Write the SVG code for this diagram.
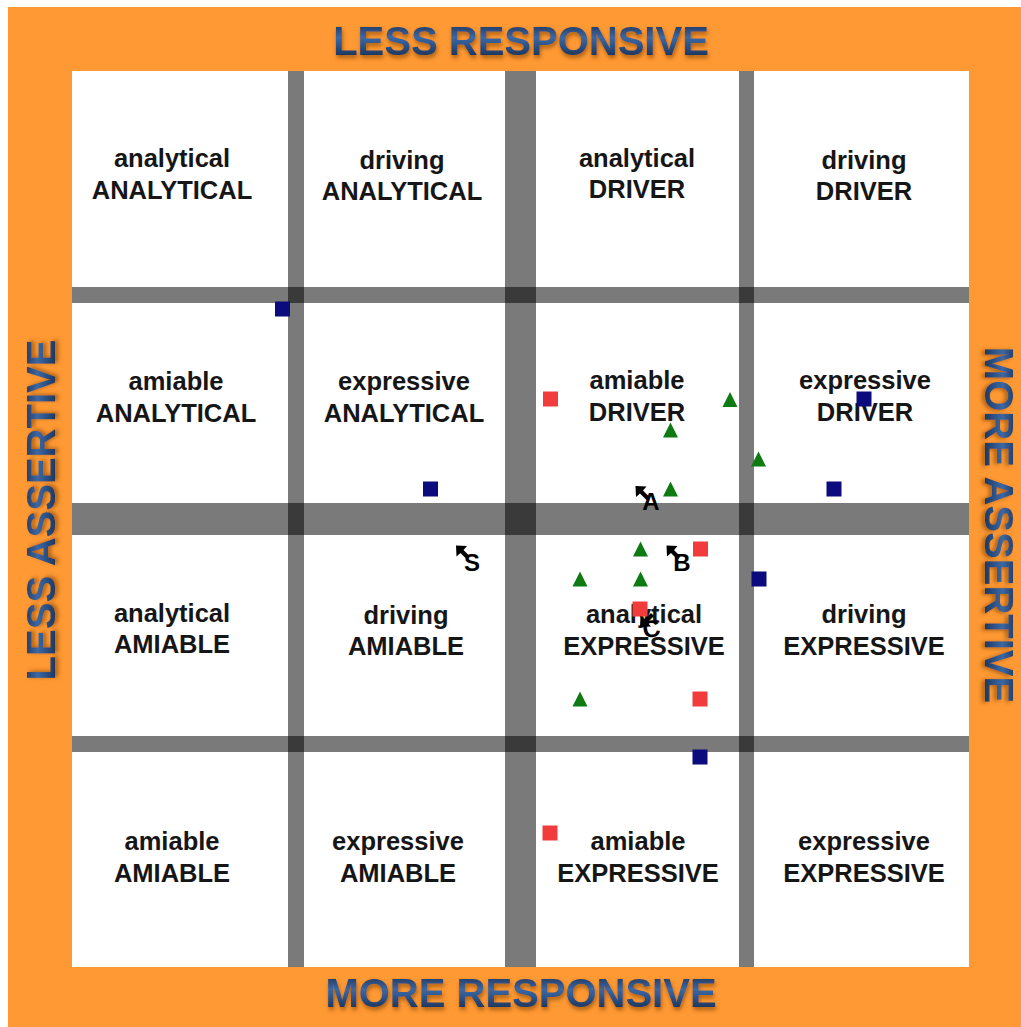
<svg xmlns="http://www.w3.org/2000/svg" width="1021" height="1027" viewBox="0 0 1021 1027">
<style>
.cell{font-family:"Liberation Sans",Arial,sans-serif;font-weight:bold;font-size:25.5px;fill:#161616;text-anchor:middle}
.title{font-family:"Liberation Sans",Arial,sans-serif;font-weight:bold;font-size:40px;fill:url(#tg);text-anchor:middle;filter:url(#sh)}
.bar{fill:#000;fill-opacity:0.52}
.blue{fill:#0b0b7d}
.red{fill:#f23c3c}
.green{fill:#0e7a12}
.lbl{font-family:"Liberation Sans",Arial,sans-serif;font-weight:bold;font-size:24px;fill:#000;text-anchor:middle}
</style>
<defs>
<linearGradient id="tg" x1="0" y1="0" x2="0" y2="1">
<stop offset="0" stop-color="#142645"/>
<stop offset="0.42" stop-color="#3c67a2"/>
<stop offset="0.6" stop-color="#2d548b"/>
<stop offset="1" stop-color="#11203c"/>
</linearGradient>
<filter id="sh" x="-10%" y="-30%" width="120%" height="170%">
<feGaussianBlur in="SourceAlpha" stdDeviation="2"/>
<feOffset dx="1" dy="3" result="b"/>
<feFlood flood-color="#7a3f00" flood-opacity="0.65"/>
<feComposite in2="b" operator="in"/>
<feMerge><feMergeNode/><feMergeNode in="SourceGraphic"/></feMerge>
</filter>
<rect id="sq" x="-7.5" y="-7.5" width="15" height="15"/>
<path id="tri" d="M0 -7.5 L7.5 7.5 L-7.5 7.5 Z"/>
<path id="ptr" d="M0 0 L11 0.5 L7.5 4.5 L14 11 L11 14 L4.5 7.5 L0.5 11 Z" fill="#000"/>
</defs>

<rect x="0" y="0" width="1021" height="1027" fill="#fff"/>
<rect x="8" y="7" width="1013" height="1020" fill="#ff9933"/>
<rect x="72" y="71" width="897" height="896" fill="#fff"/>

<g id="titles">
<text class="title" x="521" y="55">LESS RESPONSIVE</text>
<text class="title" x="521" y="1007">MORE RESPONSIVE</text>
<text class="title" transform="translate(55 510) rotate(-90)">LESS ASSERTIVE</text>
<text class="title" transform="translate(985 525) rotate(90)">MORE ASSERTIVE</text>
</g>

<g id="grid">
<rect class="bar" x="72" y="287" width="897" height="16"/>
<rect class="bar" x="72" y="503" width="897" height="32"/>
<rect class="bar" x="72" y="736" width="897" height="16"/>
<rect class="bar" x="288" y="71" width="16" height="896"/>
<rect class="bar" x="505" y="71" width="31" height="896"/>
<rect class="bar" x="739" y="71" width="15" height="896"/>
</g>

<g id="cell-r1c1"><text class="cell" x="172" y="167">analytical</text><text class="cell" x="172" y="199">ANALYTICAL</text></g>
<g id="cell-r1c2"><text class="cell" x="402" y="169">driving</text><text class="cell" x="402" y="200">ANALYTICAL</text></g>
<g id="cell-r1c3"><text class="cell" x="637" y="167">analytical</text><text class="cell" x="637" y="198">DRIVER</text></g>
<g id="cell-r1c4"><text class="cell" x="864" y="169">driving</text><text class="cell" x="864" y="200">DRIVER</text></g>

<g id="cell-r2c1"><text class="cell" x="176" y="390">amiable</text><text class="cell" x="176" y="422">ANALYTICAL</text></g>
<g id="cell-r2c2"><text class="cell" x="404" y="390">expressive</text><text class="cell" x="404" y="422">ANALYTICAL</text></g>
<g id="cell-r2c3"><text class="cell" x="637" y="389">amiable</text><text class="cell" x="637" y="421">DRIVER</text></g>
<g id="cell-r2c4"><text class="cell" x="865" y="389">expressive</text><text class="cell" x="865" y="421">DRIVER</text></g>

<g id="cell-r3c1"><text class="cell" x="172" y="622">analytical</text><text class="cell" x="172" y="653">AMIABLE</text></g>
<g id="cell-r3c2"><text class="cell" x="406" y="624">driving</text><text class="cell" x="406" y="655">AMIABLE</text></g>
<g id="cell-r3c3"><text class="cell" x="644" y="623">analytical</text><text class="cell" x="644" y="655">EXPRESSIVE</text></g>
<g id="cell-r3c4"><text class="cell" x="864" y="623">driving</text><text class="cell" x="864" y="655">EXPRESSIVE</text></g>

<g id="cell-r4c1"><text class="cell" x="172" y="850">amiable</text><text class="cell" x="172" y="882">AMIABLE</text></g>
<g id="cell-r4c2"><text class="cell" x="398" y="850">expressive</text><text class="cell" x="398" y="882">AMIABLE</text></g>
<g id="cell-r4c3"><text class="cell" x="638" y="850">amiable</text><text class="cell" x="638" y="882">EXPRESSIVE</text></g>
<g id="cell-r4c4"><text class="cell" x="864" y="850">expressive</text><text class="cell" x="864" y="882">EXPRESSIVE</text></g>

<g id="blue-points" class="blue">
<use href="#sq" x="282.5" y="309"/>
<use href="#sq" x="430.5" y="489"/>
<use href="#sq" x="864" y="399"/>
<use href="#sq" x="834" y="489"/>
<use href="#sq" x="759" y="579"/>
<use href="#sq" x="700" y="757"/>
</g>
<g id="red-points" class="red">
<use href="#sq" x="550.5" y="399"/>
<use href="#sq" x="700.5" y="549"/>
<use href="#sq" x="640" y="609"/>
<use href="#sq" x="700" y="699"/>
<use href="#sq" x="550" y="833"/>
</g>
<g id="green-points" class="green">
<use href="#tri" x="730" y="399.5"/>
<use href="#tri" x="670.5" y="430"/>
<use href="#tri" x="758.5" y="459"/>
<use href="#tri" x="670.5" y="489"/>
<use href="#tri" x="640.5" y="549"/>
<use href="#tri" x="580" y="579"/>
<use href="#tri" x="640.5" y="579"/>
<use href="#tri" x="580" y="699"/>
</g>

<g id="marker-A"><use href="#ptr" x="635.5" y="486"/><text class="lbl" x="651" y="510">A</text></g>
<g id="marker-B"><use href="#ptr" x="666.5" y="545.5"/><text class="lbl" x="682" y="571">B</text></g>
<g id="marker-S"><use href="#ptr" x="456" y="545.5"/><text class="lbl" x="472" y="571">S</text></g>
<g id="marker-C"><use href="#ptr" transform="translate(640 627) rotate(-90)"/><text class="lbl" transform="translate(653 637) rotate(-12)" x="0" y="0">C</text></g>
</svg>
